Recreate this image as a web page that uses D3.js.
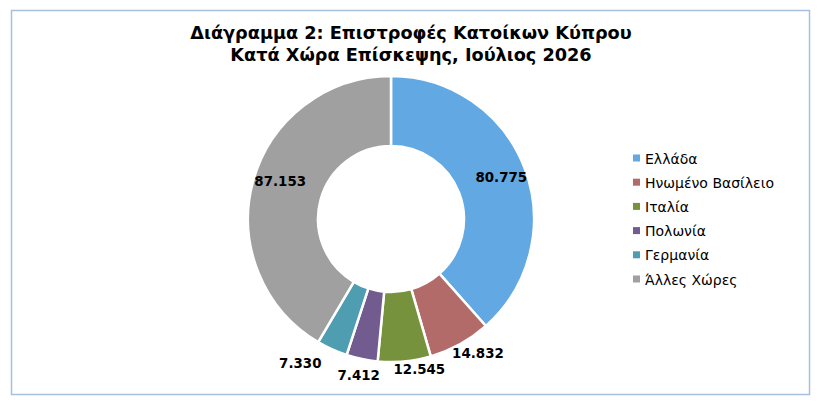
<!DOCTYPE html>
<html><head><meta charset="utf-8">
<script src="https://cdn.jsdelivr.net/npm/d3@7"></script>
<style>body{margin:0;background:#fff}svg{display:block}</style>
</head><body>
<svg id="c" width="821" height="406"></svg>
<script>
const titleLines = ["Διάγραμμα 2: Επιστροφές Κατοίκων Κύπρου", "Κατά Χώρα Επίσκεψης, Ιούλιος 2026"];
const categories = ["Ελλάδα", "Ηνωμένο Βασίλειο", "Ιταλία", "Πολωνία", "Γερμανία", "Άλλες Χώρες"];
const values = [80775, 14832, 12545, 7412, 7330, 87153];
const colors = ["#62A8E2", "#B26B69", "#76923C", "#725B8E", "#4E9DB0", "#A0A0A0"];
// layout-only: which labels sit outside the ring, and small nudges (px) Excel applies to avoid overlaps
const labelOutside = [false, true, true, true, true, false];
const labelNudge = [[0,0],[3,-3],[12,-6],[3,2],[-19,1],[3,-6]];

const fmt = v => d3.format(",")(v).replace(/,/g, ".");
const svg = d3.select("#c");
const F = "'DejaVu Sans', Verdana, sans-serif";

svg.append("rect").attr("x", 11.5).attr("y", 10.5).attr("width", 798).attr("height", 384)
  .attr("fill", "#fff").attr("stroke", "#A7C0DE").attr("stroke-width", 1.5);

svg.append("g").selectAll("text").data(titleLines).join("text")
  .attr("x", 411).attr("y", (d, i) => 39 + i * 22)
  .attr("text-anchor", "middle").attr("font-family", F).attr("font-weight", "bold")
  .attr("font-size", 17.7).attr("fill", "#000").text(d => d);

const cx = 391, cy = 219, R = 143, r0 = 73;
const pie = d3.pie().sort(null).value(d => d)(values);
const arc = d3.arc().innerRadius(r0).outerRadius(R);
const g = svg.append("g").attr("transform", `translate(${cx},${cy})`);
g.selectAll("path").data(pie).join("path")
  .attr("d", arc).attr("fill", (d, i) => colors[i])
  .attr("stroke", "#fff").attr("stroke-width", 2.5).attr("stroke-linejoin", "round");

g.selectAll("text.lbl").data(pie).join("text").attr("class", "lbl")
  .attr("font-family", F).attr("font-weight", "bold").attr("font-size", 13.4).attr("fill", "#000")
  .attr("text-anchor", "middle").attr("dominant-baseline", "central")
  .text(d => fmt(d.data))
  .attr("transform", (d, i) => {
    const a = (d.startAngle + d.endAngle) / 2;
    const s = Math.sin(a), c = -Math.cos(a);
    let x, y;
    if (labelOutside[i]) {
      const rr = R + 8;
      x = rr * s + 23 * s; y = rr * c + 6.5 * c;
    } else {
      const rr = 118;
      x = rr * s; y = rr * c;
    }
    return `translate(${x + labelNudge[i][0]},${y + labelNudge[i][1]})`;
  });

const leg = svg.append("g").attr("transform", "translate(633,158)");
const row = leg.selectAll("g").data(categories).join("g")
  .attr("transform", (d, i) => `translate(0,${i * 24.2})`);
row.append("rect").attr("x", 0).attr("y", -3.5).attr("width", 7).attr("height", 7)
  .attr("fill", (d, i) => colors[i]);
row.append("text").attr("x", 12).attr("y", 0.5).attr("dominant-baseline", "central")
  .attr("font-family", F).attr("font-size", 14).attr("fill", "#000").text(d => d);
</script>
</body></html>
